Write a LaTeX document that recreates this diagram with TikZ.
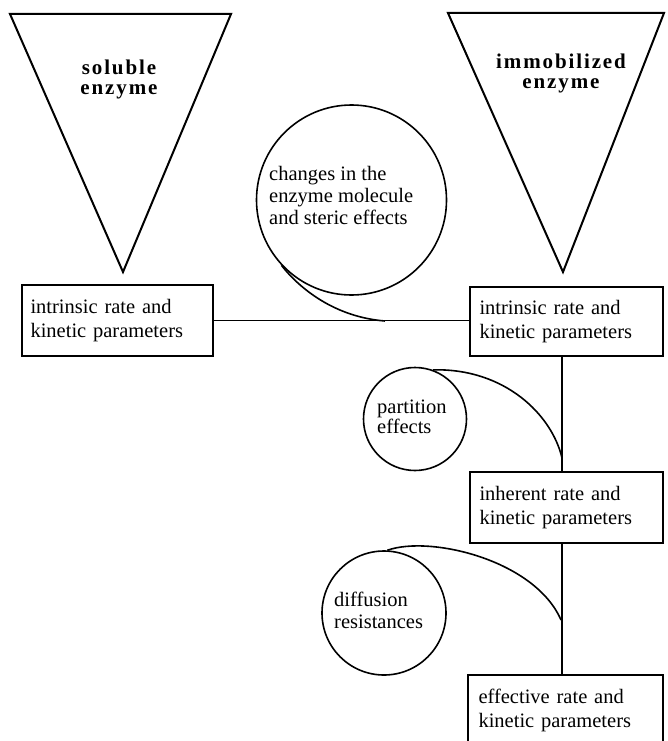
\documentclass[tikz,border=0pt]{standalone}
\usepackage{fontspec}
\setmainfont{Liberation Serif}
\newfontfamily\spacedbold[LetterSpace=9]{Liberation Serif}
\begin{document}
\begin{tikzpicture}[x=1pt,y=-1pt,
  stagebox/.style={draw, line width=2pt, rectangle, inner xsep=8pt, inner ysep=0pt,
    align=left, text width=174pt, minimum width=#1,
    font=\fontsize{20.5}{24}\selectfont},
  bubble/.style={draw, line width=1.6pt, circle, inner sep=0pt, minimum size=#1},
  bubbletext/.style={inner sep=0pt, align=left, anchor=west},
  funnel/.style={draw, line width=2pt},
  funneltext/.style={inner sep=0pt, align=center, font=\spacedbold\bfseries\fontsize{21}{20}\selectfont},
  link/.style={draw, line width=1.8pt},
  tail/.style={draw, line width=1.6pt}]

\useasboundingbox (0,0) rectangle (667,741);
\clip (0,0) rectangle (667,741);

% funnels
\coordinate (sl) at (10,14);
\coordinate (sr) at (231,14);
\coordinate (sa) at (123,272);
\coordinate (il) at (448,13);
\coordinate (ir) at (664,13);
\coordinate (ia) at (563,272);
\draw[funnel] (sl) -- (sr) -- (sa) -- cycle;
\draw[funnel] (il) -- (ir) -- (ia) -- cycle;
\node[funneltext] (solt) at (119,79) {soluble\\enzyme};
\node[funneltext] (immt) at (561,73) {immobilized\\enzyme};

% rate boxes
\node[stagebox=191pt, minimum height=71pt] (lbox) at (117.5,320.5)
  {intrinsic rate and\\kinetic parameters};
\node[stagebox=193pt, minimum height=69pt] (rbox) at (566.5,321.5)
  {intrinsic rate and\\kinetic parameters};
\node[stagebox=193pt, minimum height=71pt] (hbox) at (566.5,507.5)
  {inherent rate and\\kinetic parameters};
\node[stagebox=195pt, minimum height=70pt] (ebox) at (565.5,710)
  {effective rate and\\kinetic parameters};

% connectors
\coordinate (spine) at (562,0);
\draw[link] (lbox.east) -- (lbox.east -| rbox.west);
\draw[link] (rbox.south -| spine) -- (hbox.north -| spine);
\draw[link] (hbox.south -| spine) -- (ebox.north -| spine);

% bubbles
\node[bubble=190pt] (cb) at (351.5,200) {};
\node[bubbletext, font=\fontsize{20.5}{22}\selectfont] (cbt) at (269,195)
  {changes in the\\enzyme molecule\\and steric effects};
\node[bubble=103pt] (pb) at (415,419) {};
\node[bubbletext, font=\fontsize{20.5}{20}\selectfont] (pbt) at (377,417)
  {partition\\effects};
\node[bubble=124pt] (db) at (384,613) {};
\node[bubbletext, font=\fontsize{20.5}{22}\selectfont] (dbt) at (334,610)
  {diffusion\\resistances};

% tails
\coordinate (cbend) at (385,321);
\coordinate (pbend) at (562,458);
\coordinate (dbend) at (561,620);
\draw[tail] (cb.223) .. controls (300,289) and (335,317) .. (cbend);
\draw[tail] (pb.70) .. controls (505,368) and (552,415) .. (pbend);
\draw[tail] (db.87) .. controls (430,535) and (535,560) .. (dbend);

\end{tikzpicture}
\end{document}
